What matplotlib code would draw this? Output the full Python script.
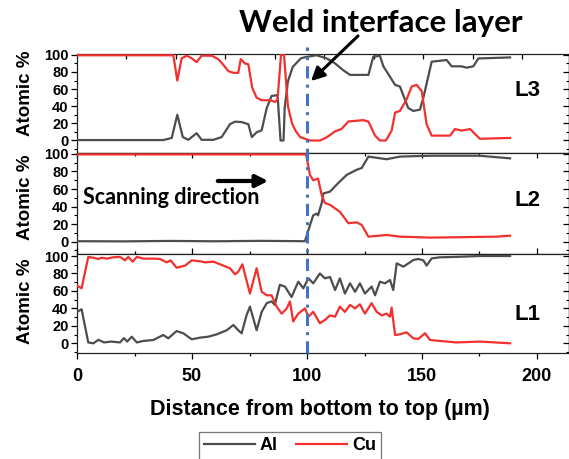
import matplotlib
matplotlib.use('Agg')
import matplotlib.pyplot as plt
from matplotlib.ticker import MultipleLocator, FixedLocator
from matplotlib.lines import Line2D
import matplotlib.transforms as mtrans

# ---------------- data ----------------
l3_al_x = [0, 37.5, 41.2, 43.6, 46, 48.4, 52, 54.2, 59.3, 62.9, 66.5, 68.7, 71.6, 74.5, 76, 78.1, 80.3,
           82.5, 84.6, 87.2, 88.5, 89.8, 90.3, 91.7, 93.8, 97.4, 99.9, 104.2, 108.6, 112.2, 115.8, 118.7,
           126.7, 128.8, 131.7, 133.2, 138.3, 140.4, 144, 146.2, 149.1, 150.6, 154.2, 160.7, 162.9, 167.2,
           169.4, 172.3, 174.5, 188.3]
l3_al_y = [0.5, 0.5, 3, 30, 4, 0.8, 8.5, 0.8, 0.8, 4, 19, 22, 21.5, 19, 4, 9.6, 12,
           38, 52, 53, 0, 0, 38, 69, 86, 96, 97.7, 99.5, 95.8, 90, 82, 76.6,
           76.6, 97.7, 99, 86.6, 65, 63, 38, 34.5, 36, 50, 92, 94, 86.6, 86.6,
           85, 86.6, 95.8, 97]
l3_cu_x = [0, 41.9, 43.6, 45.5, 47.7, 49.9, 52, 54.2, 58.6, 61.4, 63.6, 65.8, 68, 70.1, 71.2, 73, 74.5,
           76.2, 78.1, 80.3, 83.9, 86.1, 87.2, 88.7, 90, 91.7, 93.5, 95, 97, 101.3, 105.7, 108.6, 112.2,
           115, 118, 124.5, 126.7, 129.6, 131.7, 134.3, 136.8, 138.3, 140.4, 143.3, 145.5, 147.7, 149.9,
           152, 154.2, 162.2, 164.3, 167.3, 170.9, 173, 175.2, 188.3]
l3_cu_y = [99.5, 99.5, 70, 96, 99, 96, 91.5, 99, 99, 95, 88.5, 81, 79, 79, 95, 90, 89,
           61.5, 50, 47, 47, 45, 48, 100, 100, 40, 20, 11.5, 4, 0, 0, 3.8, 10.7,
           13.4, 22.2, 23.8, 22, 5.7, 0, 0, 11.5, 32.6, 34.5, 48, 63, 65, 57.5,
           19, 5.7, 5.7, 13.4, 11.5, 13.4, 7.7, 2, 3]

l2_al_x = [0, 20, 40, 60, 80, 99.1, 100.6, 102.7, 104.2, 104.8, 106.4, 107.1, 110, 112.9, 117.2, 121.6,
           123.8, 126.7, 134.6, 140.4, 153.5, 175, 188.3]
l2_al_y = [0.5, 0.3, 0.8, 0.4, 0.9, 0.5, 13, 30, 32, 30, 44, 55, 57, 65, 76, 82,
           84, 97, 94, 97, 98, 98, 95]
l2_cu_x = [0, 99.6, 101.3, 102.7, 104.8, 106.4, 107.8, 110, 114.3, 118, 121.6, 123.8, 126.7, 134.6,
           140.4, 153.5, 165, 182.5, 188.3]
l2_cu_y = [99.5, 99.5, 76, 70, 72, 53, 44, 42, 34, 21, 22, 19, 5.7, 7.6,
           5.7, 4.6, 5, 5.7, 6.8]

l1_al_x = [0, 2, 4.9, 7.1, 9.3, 11.8, 14.8, 18.7, 20.4, 21.8, 23.8, 26, 28.8, 33.2, 37.5, 39.7, 43.3,
           46.2, 49.9, 53.5, 57.1, 60.8, 65.1, 68, 70.1, 71.6, 73.7, 75.2, 78.1, 80.3, 82.5, 84.6, 86,
           88.2, 90.4, 93.3, 96.2, 98.4, 100.6, 102.7, 105.6, 107.8, 110, 112.2, 114.3, 116.5, 118.7,
           120.9, 123, 125.2, 128.1, 129.6, 131.7, 133.9, 136.1, 137.5, 139, 141.9, 144.1, 146.2, 148.4,
           150.6, 152, 154.2, 157.8, 165, 175.2, 188.3]
l1_al_y = [36, 39, 1, 0, 4, 1, 2, 1, 6, 2, 7.6, 1, 2.7, 3.8, 9.5, 5.7, 14,
           11.5, 4.6, 6.5, 7.6, 10.3, 15, 21, 15, 11.5, 32, 42, 15, 36, 46, 48, 44,
           67, 65, 53, 70.6, 63, 74.4, 68.7, 80, 74.4, 76, 61, 74.4, 57, 68.7,
           59, 68.7, 57, 65, 55, 70.6, 68.7, 72.5, 61, 91.6, 87.8, 91.6, 95.4, 96.6,
           95, 89, 97.3, 98.5, 99, 100, 100]
l1_cu_x = [0, 2, 4.9, 7.1, 9.3, 10.7, 12.9, 15.8, 18.7, 20.9, 22.3, 24.2, 26, 28.8, 33.2, 36.1, 39,
           40.7, 43.3, 47, 49.9, 53.5, 55.7, 59.3, 62.2, 66.5, 68.7, 70.1, 71.9, 75.2, 78.1, 80.3, 82.5,
           84.6, 86.8, 89, 91.2, 92.6, 94, 96.2, 99.1, 100.6, 102.7, 105.6, 107.8, 110, 112.2, 114.3,
           116.5, 118.7, 120.9, 123, 125.2, 128.1, 130.3, 132.5, 134.6, 136.1, 136.8, 138.3, 140.4,
           143.3, 146.2, 148.4, 151.3, 153.5, 157.8, 165, 175.2, 188.3]
l1_cu_y = [66, 63, 99, 98, 96.6, 98, 97, 98.5, 99, 95, 99, 93.5, 99, 97, 97, 96.6, 92.7,
           95, 86.6, 89, 95, 94, 92.7, 93.5, 90.5, 86, 79, 82, 90.5, 57, 86, 59, 55,
           55, 42, 34, 40, 48, 25, 34, 40, 30.5, 36, 23, 26.7, 32, 30.5, 42,
           36, 44, 40, 44.7, 34, 46, 36, 32, 34, 30.5, 41, 9.5, 10.3,
           12.6, 5.7, 5, 11.5, 3.8, 2.7, 1, 2, 0]

panel_names = ['L3', 'L2', 'L1']
series_labels = ['Al', 'Cu']
x_ticks = [0, 50, 100, 150, 200]
y_ticks = [0, 20, 40, 60, 80, 100]
interface_x = 100

# ---------------- layout ----------------
W, H = 569, 459
fig = plt.figure(figsize=(W / 100, H / 100), dpi=100)

def fx(px):
    return px / W

def fy(py):
    return 1 - py / H

AL_C = '#4d4d4d'
CU_C = '#f2302e'
TICKFONT = dict(family='Liberation Sans', weight='bold')

x0_px, x1_px = 77, 568.5
xmax = (x1_px - x0_px) / 2.3
panel_px = [(54, 153, (-14.6, 101.0)), (153, 254, (-14.1, 101.1)), (254, 353, (-11.1, 102.3))]
data = [(l3_al_x, l3_al_y, l3_cu_x, l3_cu_y),
        (l2_al_x, l2_al_y, l2_cu_x, l2_cu_y),
        (l1_al_x, l1_al_y, l1_cu_x, l1_cu_y)]
label_y_px = [91, 201, 315]
ylabel_y_px = [93.5, 197, 301]

axes = []
for i, ((top, bot, ylim), (ax_x, ax_y, cx, cy)) in enumerate(zip(panel_px, data)):
    ax = fig.add_axes([fx(x0_px), fy(bot), (x1_px - x0_px) / W, (bot - top) / H])
    ax.plot(ax_x, ax_y, color=AL_C, lw=1.6, label=series_labels[0], solid_joinstyle='round', zorder=3)
    ax.plot(cx, cy, color=CU_C, lw=1.6, label=series_labels[1], solid_joinstyle='round', zorder=3)
    ax.set_xlim(0, xmax)
    ax.set_ylim(*ylim)
    for s in ax.spines.values():
        s.set_linewidth(0.9)
        s.set_color('#222222')
    ax.yaxis.set_major_locator(FixedLocator(y_ticks))
    ax.yaxis.set_minor_locator(MultipleLocator(10))
    ax.tick_params(axis='y', which='major', direction='out', length=4, width=0.9,
                   labelsize=10.5, pad=2)
    ax.tick_params(axis='y', which='minor', direction='out', length=2.5, width=0.8)
    for lab in ax.get_yticklabels():
        lab.set_fontproperties(TICKFONT)
        lab.set_fontsize(10.5)
    if i == 0:
        ax.xaxis.set_major_locator(FixedLocator([21.52 * k for k in range(1, 10)]))
        ax.xaxis.set_minor_locator(FixedLocator([]))
    else:
        ax.xaxis.set_major_locator(MultipleLocator(50))
        ax.xaxis.set_minor_locator(MultipleLocator(25))
    if i < 2:
        ax.tick_params(axis='x', which='both', bottom=False, labelbottom=False, top=True,
                       direction='in', length=3.5, width=0.9)
        ax.tick_params(axis='x', which='minor', length=2)
    else:
        ax.tick_params(axis='x', which='both', top=True, bottom=True, direction='out',
                       length=4, width=0.9, labelsize=12.5, pad=7)
        ax.tick_params(axis='x', which='minor', length=2.5)
        ax.set_xticks(x_ticks)
        for lab in ax.get_xticklabels():
            lab.set_fontproperties(TICKFONT)
            lab.set_fontsize(13)
    ax.text(fx(527), fy(label_y_px[i]), panel_names[i], transform=fig.transFigure,
            ha='center', va='center', fontsize=16, **TICKFONT)
    fig.text(fx(25), fy(ylabel_y_px[i]), 'Atomic %', rotation=90, ha='center', va='center',
             fontsize=13.5, **TICKFONT)
    axes.append(ax)

# right-side inward ticks
for ax in axes:
    sec = ax.secondary_yaxis('right')
    sec.yaxis.set_major_locator(MultipleLocator(20))
    sec.yaxis.set_minor_locator(MultipleLocator(10))
    sec.tick_params(which='major', direction='in', length=4, width=0.9, labelright=False)
    sec.tick_params(which='minor', direction='in', length=2.2, width=0.8)
    sec.spines['right'].set_linewidth(0.9)

# interface dash-dot line spanning all panels
trans = mtrans.blended_transform_factory(axes[0].transData, fig.transFigure)
fig.add_artist(Line2D([interface_x, interface_x], [fy(353), fy(47)], transform=trans,
                      color='#4472c4', lw=2.2, linestyle=(0, (4, 2, 1, 2)), zorder=5))

# annotations
fig.text(fx(381), fy(23), 'Weld interface layer', ha='center', va='center',
         fontsize=22.5, family='Lato', weight='bold')
axes[0].annotate('', xy=(fx(309), fy(83)), xytext=(fx(360), fy(34)),
                 xycoords='figure fraction', textcoords='figure fraction',
                 arrowprops=dict(arrowstyle='-|>', lw=2.2, color='black', mutation_scale=20),
                 annotation_clip=False)
fig.text(fx(171), fy(198), 'Scanning direction', ha='center', va='center',
         fontsize=15.5, family='Lato', weight='bold')
axes[1].annotate('', xy=(fx(271), fy(181)), xytext=(fx(215), fy(181)),
                 xycoords='figure fraction', textcoords='figure fraction',
                 arrowprops=dict(arrowstyle='-|>', lw=3, color='black', mutation_scale=18),
                 annotation_clip=False)

fig.text(fx(320), fy(409), 'Distance from bottom to top (\u00b5m)', ha='center', va='center',
         fontsize=15.5, **TICKFONT)

handles = [Line2D([], [], color=AL_C, lw=1.6), Line2D([], [], color=CU_C, lw=1.6)]
leg = fig.legend(handles, series_labels, loc='upper center', bbox_to_anchor=(fx(290), fy(432)),
                 ncol=2, frameon=True, fancybox=False, edgecolor='#555555', borderaxespad=0,
                 prop=dict(family='Liberation Sans', weight='bold', size=13),
                 handlelength=2.8, handletextpad=0.3, columnspacing=1.0, borderpad=0.3)
leg.get_frame().set_linewidth(0.9)

fig.savefig('out.png', dpi=100)
